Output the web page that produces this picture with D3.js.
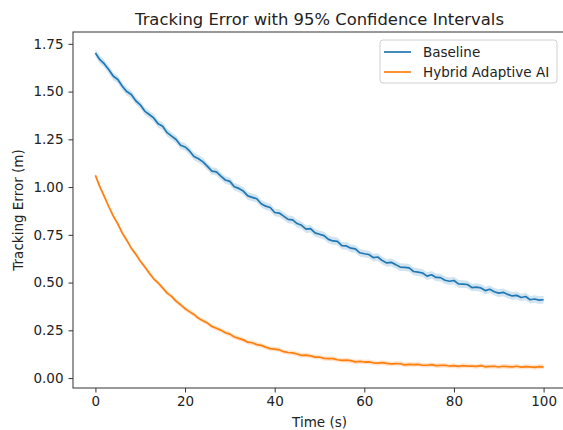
<!DOCTYPE html>
<html>
<head>
<meta charset="utf-8">
<script src="https://cdn.jsdelivr.net/npm/d3@7"></script>
<style>
  html, body { margin: 0; padding: 0; background: #fff; }
  svg { display: block; font-family: "DejaVu Sans", sans-serif; }
</style>
</head>
<body>
<svg id="chart" width="563" height="430"></svg>
<script>
// time grid (s)
const times = d3.range(0, 101, 1);

// mean tracking error, one value per second
const baseline = [
  1.702, 1.667, 1.645, 1.614, 1.580, 1.563, 1.528, 1.500, 1.485, 1.452,
  1.431, 1.398, 1.380, 1.362, 1.331, 1.319, 1.285, 1.267, 1.249, 1.219,
  1.210, 1.189, 1.160, 1.148, 1.132, 1.108, 1.084, 1.080, 1.057, 1.037,
  1.030, 1.002, 0.993, 0.979, 0.954, 0.946, 0.939, 0.913, 0.900, 0.893,
  0.867, 0.864, 0.848, 0.831, 0.828, 0.809, 0.800, 0.780, 0.782, 0.760,
  0.753, 0.746, 0.726, 0.718, 0.716, 0.693, 0.692, 0.680, 0.676, 0.656,
  0.651, 0.647, 0.631, 0.634, 0.615, 0.603, 0.606, 0.594, 0.581, 0.580,
  0.577, 0.558, 0.555, 0.550, 0.534, 0.541, 0.527, 0.526, 0.512, 0.507,
  0.511, 0.493, 0.492, 0.490, 0.474, 0.476, 0.472, 0.458, 0.465, 0.452,
  0.445, 0.449, 0.438, 0.430, 0.433, 0.422, 0.427, 0.410, 0.414, 0.408,
  0.410
];

const hybrid = [
  1.061, 1.001, 0.950, 0.897, 0.848, 0.807, 0.759, 0.722, 0.680, 0.649,
  0.613, 0.583, 0.550, 0.520, 0.498, 0.472, 0.445, 0.428, 0.403, 0.384,
  0.363, 0.348, 0.333, 0.313, 0.300, 0.288, 0.270, 0.261, 0.251, 0.237,
  0.230, 0.215, 0.208, 0.200, 0.188, 0.185, 0.175, 0.171, 0.162, 0.154,
  0.152, 0.148, 0.138, 0.134, 0.132, 0.126, 0.119, 0.120, 0.116, 0.110,
  0.110, 0.103, 0.102, 0.102, 0.096, 0.093, 0.094, 0.091, 0.085, 0.087,
  0.084, 0.085, 0.080, 0.078, 0.081, 0.077, 0.074, 0.076, 0.075, 0.069,
  0.072, 0.070, 0.072, 0.067, 0.067, 0.070, 0.065, 0.066, 0.067, 0.063,
  0.065, 0.061, 0.065, 0.063, 0.063, 0.061, 0.065, 0.059, 0.061, 0.062,
  0.058, 0.062, 0.060, 0.059, 0.062, 0.057, 0.060, 0.059, 0.056, 0.060,
  0.059
];

// half width of the 95% confidence band
const baselineCI = 0.02;
const hybridCI = 0.012;

const seriesNames = ["Baseline", "Hybrid Adaptive AI"];
const xTicks = [0, 20, 40, 60, 80, 100];
const yTicks = [0, 0.25, 0.5, 0.75, 1.0, 1.25, 1.5, 1.75];

const colors = ["#1f77b4", "#ff7f0e"];

const svg = d3.select("#chart");
const plotLeft = 73, plotRight = 566, plotTop = 32, plotBottom = 388;
const fontSize = 13.5;

const x = d3.scaleLinear().domain([-5, 105]).range([plotLeft, plotRight]);
const y = d3.scaleLinear().domain([-0.052, 1.812]).range([plotBottom, plotTop]);

const series = [
  { name: seriesNames[0], values: baseline, ci: baselineCI, color: colors[0] },
  { name: seriesNames[1], values: hybrid, ci: hybridCI, color: colors[1] }
];

const area = d3.area()
  .x((d, i) => x(times[i]))
  .y0(d => y(d.v - d.ci))
  .y1(d => y(d.v + d.ci));

const line = d3.line()
  .x((d, i) => x(times[i]))
  .y(d => y(d));

const plot = svg.append("g");

series.forEach(s => {
  plot.append("path")
    .datum(s.values.map(v => ({ v: v, ci: s.ci })))
    .attr("d", area)
    .attr("fill", s.color)
    .attr("fill-opacity", 0.2);
});

series.forEach(s => {
  plot.append("path")
    .datum(s.values)
    .attr("d", line)
    .attr("fill", "none")
    .attr("stroke", s.color)
    .attr("stroke-width", 1.7)
    .attr("stroke-linejoin", "round");
});

// axes
const xAxis = svg.append("g")
  .attr("transform", `translate(0,${plotBottom})`)
  .call(d3.axisBottom(x).tickValues(xTicks).tickSize(4.5).tickPadding(4).tickFormat(d3.format("d")));

const yAxis = svg.append("g")
  .attr("transform", `translate(${plotLeft},0)`)
  .call(d3.axisLeft(y).tickValues(yTicks).tickSize(4.5).tickPadding(5).tickFormat(d3.format(".2f")));

[xAxis, yAxis].forEach(a => {
  a.selectAll("text").attr("font-size", fontSize).attr("fill", "#222").attr("font-family", "DejaVu Sans");
  a.selectAll("line").attr("stroke", "#333");
  a.select(".domain").remove();
});

// spines
svg.append("rect")
  .attr("x", plotLeft).attr("y", plotTop)
  .attr("width", plotRight - plotLeft).attr("height", plotBottom - plotTop)
  .attr("fill", "none")
  .attr("stroke", "#333")
  .attr("stroke-width", 1);

// title and labels
svg.append("text")
  .attr("x", (plotLeft + plotRight) / 2).attr("y", 25)
  .attr("text-anchor", "middle")
  .attr("font-size", 16.4)
  .attr("fill", "#222")
  .text("Tracking Error with 95% Confidence Intervals");

svg.append("text")
  .attr("x", (plotLeft + plotRight) / 2).attr("y", 427)
  .attr("text-anchor", "middle")
  .attr("font-size", fontSize)
  .attr("fill", "#222")
  .text("Time (s)");

svg.append("text")
  .attr("transform", `translate(23,${(plotTop + plotBottom) / 2}) rotate(-90)`)
  .attr("text-anchor", "middle")
  .attr("font-size", fontSize)
  .attr("fill", "#222")
  .text("Tracking Error (m)");

// legend
const legend = svg.append("g").attr("transform", "translate(380,40)");
legend.append("rect")
  .attr("width", 177).attr("height", 43)
  .attr("rx", 3)
  .attr("fill", "#fff").attr("fill-opacity", 0.8)
  .attr("stroke", "#d0d0d0");

series.forEach((s, i) => {
  const row = legend.append("g").attr("transform", `translate(0,${12 + i * 20})`);
  row.append("line")
    .attr("x1", 4).attr("x2", 31)
    .attr("stroke", s.color).attr("stroke-width", 1.7);
  row.append("text")
    .attr("x", 43).attr("dy", "0.35em")
    .attr("font-size", fontSize)
    .attr("fill", "#222")
    .text(s.name);
});
</script>
</body>
</html>
